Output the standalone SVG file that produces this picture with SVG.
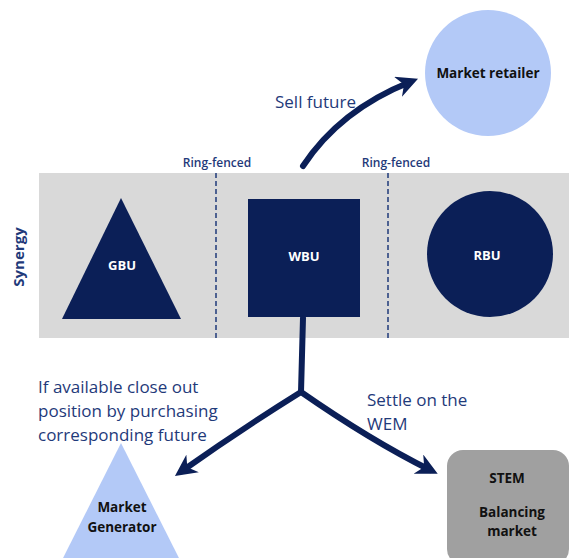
<svg xmlns="http://www.w3.org/2000/svg" width="569" height="558" viewBox="0 0 569 558">
<style>
.navy{fill:#0B1F57}
.light{fill:#B3C9F7}
.wt{font-family:"Open Sans","Liberation Sans",sans-serif;font-weight:bold;fill:#fff;font-size:13px;text-anchor:middle}
.bt{font-family:"Open Sans","Liberation Sans",sans-serif;font-weight:bold;fill:#111;font-size:13.5px;text-anchor:middle}
.lbl{font-family:"Open Sans","Liberation Sans",sans-serif;fill:#1F3A7A;font-size:17px}
.rf{font-family:"Open Sans","Liberation Sans",sans-serif;fill:#1F3A7A;font-size:12px;font-weight:600;text-anchor:middle}
.dash{stroke:#1F3A7A;stroke-width:1.5;stroke-dasharray:5,3}
.conn{fill:none;stroke:#0B1F57;stroke-width:6;stroke-linecap:round}
</style>
<defs>
<marker id="ah" viewBox="0 0 10 10" refX="6" refY="5" markerWidth="3.6" markerHeight="3.6" orient="auto" markerUnits="strokeWidth">
<path d="M0,0 L10,5 L0,10 L3,5 Z" fill="#0B1F57"/>
</marker>
</defs>
<rect x="39" y="173" width="530" height="165" fill="#D9D9D9"/>
<line class="dash" x1="216" y1="173" x2="216" y2="338"/>
<line class="dash" x1="388" y1="173" x2="388" y2="338"/>
<text class="rf" x="217" y="167">Ring-fenced</text>
<text class="rf" x="396" y="167">Ring-fenced</text>
<text class="lbl" transform="translate(24,257) rotate(-90)" text-anchor="middle" font-weight="bold" style="font-size:15px">Synergy</text>
<g id="gbu">
<polygon class="navy" points="121,198 62,319 181,319"/>
<text class="wt" x="122" y="270">GBU</text>
</g>
<g id="wbu">
<rect class="navy" x="248" y="199" width="112" height="118"/>
<text class="wt" x="304" y="261">WBU</text>
</g>
<g id="rbu">
<circle class="navy" cx="490" cy="254" r="63"/>
<text class="wt" x="487" y="260">RBU</text>
</g>
<g id="retailer">
<circle class="light" cx="488" cy="73" r="63"/>
<text class="bt" x="488" y="78">Market retailer</text>
</g>
<g id="generator">
<polygon class="light" points="121,443 58,568 184,568"/>
<text class="bt" x="122" y="512">Market</text>
<text class="bt" x="122" y="532">Generator</text>
</g>
<g id="stem">
<rect x="447" y="450" width="122" height="115" rx="16" fill="#A0A0A0"/>
<text class="bt" x="507" y="483">STEM</text>
<text class="bt" x="512" y="517">Balancing</text>
<text class="bt" x="512" y="536">market</text>
</g>
<g id="connectors">
<path class="conn" d="M303,166 Q340,110 410,82" marker-end="url(#ah)"/>
<path class="conn" d="M303,318 L301,392"/>
<path class="conn" d="M301,392 Q240,430 182,471" marker-end="url(#ah)"/>
<path class="conn" d="M301,392 Q370,440 430,470" marker-end="url(#ah)"/>
</g>
<text class="lbl" x="275" y="108">Sell  future</text>
<text class="lbl"><tspan x="38" y="393">If available close out</tspan><tspan x="38" y="417">position by purchasing</tspan><tspan x="38" y="441">corresponding future</tspan></text>
<text class="lbl"><tspan x="367" y="406">Settle on the</tspan><tspan x="367" y="430">WEM</tspan></text>
</svg>
